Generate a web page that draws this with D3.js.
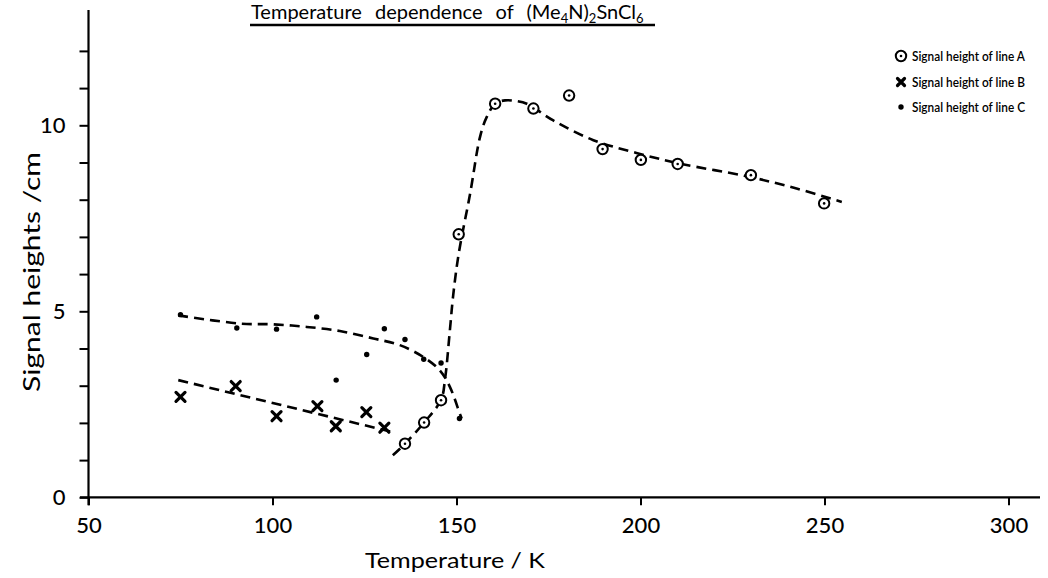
<!DOCTYPE html>
<html><head><meta charset="utf-8">
<script src="https://cdn.jsdelivr.net/npm/d3@7"></script>
<style>body{margin:0;background:#fff}svg{display:block}text{font-family:Lato,"Open Sans",sans-serif;fill:#000}</style>
</head><body><svg id="c" width="1048" height="578"></svg>
<script>
// Data
const lineA_T = [136.0,141.2,145.8,150.6,160.5,170.9,180.6,189.7,200.1,210.1,230.0,249.9];
const lineA_H = [1.44,2.01,2.61,7.07,10.58,10.45,10.8,9.36,9.07,8.96,8.66,7.9];
const lineB_T = [75.0,90.0,101.1,112.2,117.2,125.5,130.4];
const lineB_H = [2.70,2.99,2.18,2.45,1.91,2.29,1.87];
const lineC_T = [75.0,90.3,101.1,112.0,117.3,125.6,130.4,136.0,141.1,145.8,150.8];
const lineC_H = [4.91,4.55,4.52,4.85,3.15,3.84,4.53,4.24,3.71,3.61,2.12];
// dashed guide curves
const fitA_T = [132.7,136.0,141.2,145.8,146.9,148.2,149.1,150.6,153.7,156.4,158.2,160.5,163.2,166.4,169.1,176.3,187.2,198.0,210.7,228.9,242.4,254.7];
const fitA_H = [1.13,1.44,2.01,2.62,3.19,4.49,5.43,6.55,8.16,9.69,10.22,10.58,10.67,10.65,10.58,10.13,9.6,9.28,8.97,8.63,8.3,7.94];
const fitB_T = [74.4,132.4];
const fitB_H = [3.15,1.76];
const fitC_T = [74.4,91.2,100.2,109.3,118.3,127.4,134.6,141.0,145.5,148.2,150.9,151.4];
const fitC_H = [4.89,4.67,4.65,4.58,4.47,4.27,4.09,3.77,3.41,2.97,2.25,2.12];
const xTicks = [50,100,150,200,250,300];
const yTicks = [0,5,10];
const yMinor = [0,1,2,3,4,5,6,7,8,9,10,11,12];
const legendLabels = ["Signal height of line A","Signal height of line B","Signal height of line C"];

const svg = d3.select("#c");
const x = d3.scaleLinear().domain([50,300]).range([88.5,1008.5]);
const y = d3.scaleLinear().domain([0,10]).range([497.3,125.3]);

// axes
const gx = svg.append("g").attr("transform",`translate(0,${y(0)})`)
  .call(d3.axisBottom(x).tickValues(xTicks).tickSize(8).tickPadding(12));
gx.select(".domain").remove();
gx.append("line").attr("x1",80).attr("x2",1040).attr("stroke","#000").attr("stroke-width",2.2);
gx.selectAll(".tick line").attr("stroke","#000").attr("stroke-width",2);
gx.selectAll(".tick text").style("font-size","22px").style("font-weight","500").attr("fill","#000");

const gy = svg.append("g").attr("transform",`translate(${x(50)},0)`)
  .call(d3.axisLeft(y).tickValues(yMinor).tickSize(9).tickPadding(14).tickFormat(d=>yTicks.includes(d)?d:""));
gy.select(".domain").remove();
gy.append("line").attr("y1",y(13.1)).attr("y2",y(0)+8).attr("stroke","#000").attr("stroke-width",2.2);
gy.selectAll(".tick line").attr("stroke","#000").attr("stroke-width",2);
gy.selectAll(".tick text").style("font-size","22px").style("font-weight","500").attr("fill","#000");

// axis titles
svg.append("text").attr("transform","translate(40,272) rotate(-90)").attr("text-anchor","middle")
  .style("font-size","23px").attr("textLength",240).attr("lengthAdjust","spacingAndGlyphs").text("Signal heights /cm");
svg.append("text").attr("x",455).attr("y",568).attr("text-anchor","middle")
  .style("font-size","22px").attr("textLength",180).attr("lengthAdjust","spacingAndGlyphs").text("Temperature / K");

// title
const title = svg.append("text").attr("x",251).attr("y",19).style("font-size","20px").style("word-spacing","8px");
title.append("tspan").text("Temperature dependence of (Me");
title.append("tspan").attr("dy",4).style("font-size","13px").text("4");
title.append("tspan").attr("dy",-4).text("N)");
title.append("tspan").attr("dy",4).style("font-size","13px").text("2");
title.append("tspan").attr("dy",-4).text("SnCl");
title.append("tspan").attr("dy",4).style("font-size","13px").text("6");
svg.append("line").attr("x1",250).attr("x2",655).attr("y1",25).attr("y2",25).attr("stroke","#000").attr("stroke-width",2.4);

// dashed curves
const line = d3.line().x(d=>x(d[0])).y(d=>y(d[1])).curve(d3.curveCatmullRom.alpha(0.5));
function fit(T,H){
  svg.append("path").datum(T.map((t,i)=>[t,H[i]])).attr("d",line)
    .attr("fill","none").attr("stroke","#000").attr("stroke-width",2.6).attr("stroke-dasharray","10,6");
}
fit(fitA_T,fitA_H); fit(fitB_T,fitB_H); fit(fitC_T,fitC_H);

// markers
function circ(g,cx,cy){
  g.append("circle").attr("cx",cx).attr("cy",cy).attr("r",5.2).attr("fill","#fff").attr("stroke","#000").attr("stroke-width",2);
  g.append("circle").attr("cx",cx).attr("cy",cy).attr("r",1.3).attr("fill","#000");
}
function cross(g,cx,cy,s){
  s = s||4.5;
  g.append("path").attr("d",`M${cx-s},${cy-s}L${cx+s},${cy+s}M${cx+s},${cy-s}L${cx-s},${cy+s}`)
    .attr("stroke","#000").attr("stroke-width",3.2).attr("stroke-linecap","round");
}
function dot(g,cx,cy){
  g.append("circle").attr("cx",cx).attr("cy",cy).attr("r",2.7).attr("fill","#000");
}
const gm = svg.append("g");
lineA_T.forEach((t,i)=>circ(gm,x(t),y(lineA_H[i])));
lineB_T.forEach((t,i)=>cross(gm,x(t),y(lineB_H[i])));
lineC_T.forEach((t,i)=>dot(gm,x(t),y(lineC_H[i])));

// legend
const lg = svg.append("g");
const rows=[56,82,107];
circ(lg,901,rows[0]); cross(lg,901,rows[1],3.5); dot(lg,901,rows[2]);
legendLabels.forEach((l,i)=>{
  lg.append("text").attr("x",912).attr("y",rows[i]+5).style("font-size","13px").style("font-weight","600")
    .attr("textLength",113).attr("lengthAdjust","spacingAndGlyphs").text(l);
});
</script></body></html>
